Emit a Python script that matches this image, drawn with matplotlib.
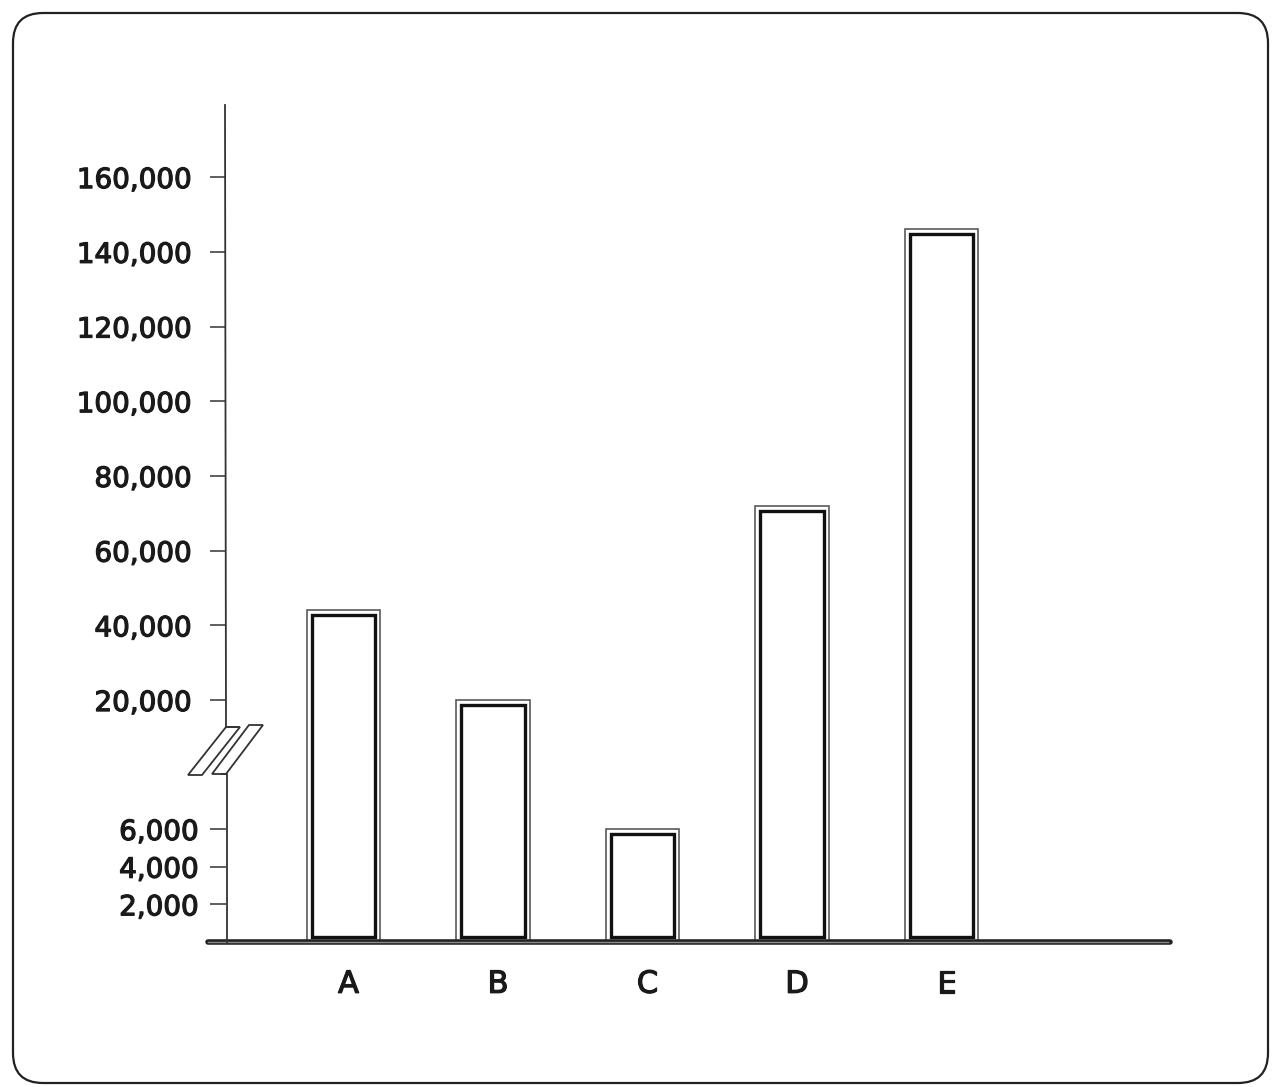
import numpy as np
import matplotlib
matplotlib.use("Agg")
import matplotlib.pyplot as plt
import matplotlib.patheffects as pe
from matplotlib.transforms import Affine2D, IdentityTransform, ScaledTranslation
from matplotlib.patches import Rectangle, Polygon, FancyBboxPatch
from matplotlib.lines import Line2D

# ---------------- data ----------------
categories = ["A", "B", "C", "D", "E"]
values = [44000, 20000, 6000, 72000, 146000]
upper_ticks = [20000, 40000, 60000, 80000, 100000, 120000, 140000, 160000]
lower_ticks = [2000, 4000, 6000]

# broken-axis scale: value -> relative height (piecewise linear)
scale_vals = [-100000, 0, 6000, 20000, 160000, 1000000]
scale_pos = [-1883, 0, 113, 242, 765, 3903]

W, H = 1272, 1087
fig = plt.figure(figsize=(W / 100, H / 100), dpi=100)
fig.patch.set_facecolor("white")

ax_left, ax_right, ax_bottom, ax_top = 226, 1168, 942, 105
ax = fig.add_axes([ax_left / W, (H - ax_bottom) / H,
                   (ax_right - ax_left) / W, (ax_bottom - ax_top) / H])
ax.set_facecolor("none")


def fwd(v):
    return np.interp(v, scale_vals, scale_pos)


def inv(p):
    return np.interp(p, scale_pos, scale_vals)


ax.set_yscale("function", functions=(fwd, inv))
ax.set_ylim(0, 179300)
ax.set_xlim(-0.786, 5.515)

for s in ax.spines.values():
    s.set_visible(False)

# outer thin outline of bars
bars = ax.bar(categories, values, width=0.49, facecolor="white",
              edgecolor="#5a5a5a", linewidth=1.2, zorder=2)

# inner heavy outline (inset by a few pixels)
inset = 5.0
for p in bars.patches:
    x0, y0 = p.get_x(), p.get_y()
    x1, y1 = x0 + p.get_width(), y0 + p.get_height()
    (dx0, dy0), (dx1, dy1) = ax.transData.transform([(x0, y0), (x1, y1)])
    (ix0, iy0), (ix1, iy1) = ax.transData.inverted().transform(
        [(dx0 + inset, dy0 + inset), (dx1 - inset, dy1 - inset)])
    ax.add_patch(Rectangle((ix0, iy0), ix1 - ix0, iy1 - iy0, facecolor="none",
                           edgecolor="#111111", linewidth=2.4, zorder=3))

thick = [pe.withStroke(linewidth=0.9, foreground="#1a1a1a")]

# y ticks
yt = lower_ticks + upper_ticks
ax.set_yticks(yt)
ax.set_yticklabels([f"{v:,}" for v in yt])
ax.tick_params(axis="y", direction="out", length=11.5, width=1.1,
               color="#333333", labelsize=20, labelcolor="#1a1a1a", pad=13)
for t, v in zip(ax.yaxis.get_major_ticks(), yt):
    if v in lower_ticks:
        t.set_pad(8)
for lbl in ax.get_yticklabels():
    lbl.set_path_effects(thick)

# x ticks
ax.set_xticks(range(len(categories)))
ax.set_xticklabels(categories)
ax.tick_params(axis="x", length=0, labelsize=22, labelcolor="#1a1a1a", pad=20)
for lbl in ax.get_xticklabels():
    lbl.set_transform(lbl.get_transform() +
                      ScaledTranslation(5 / 100, 0, fig.dpi_scale_trans))
    lbl.set_path_effects(thick)

# x axis line (heavy)
ax.plot([-18 / (ax_right - ax_left), 1.002], [0, 0], transform=ax.transAxes,
        clip_on=False, color="#222222", lw=4.0, solid_capstyle="round", zorder=4)
ax.plot([-18 / (ax_right - ax_left), 1.0], [0, 0], transform=ax.transAxes,
        clip_on=False, color="#8c8c8c", lw=1.0, zorder=5)

# pixel transform (x right, y down from top)
pix = Affine2D().scale(1, -1).translate(0, H)

axis_col = "#333333"
# upper y-axis
fig.add_artist(Line2D([225, 226, 238], [105, 727, 727], transform=pix,
                      color=axis_col, lw=1.3))
# lower y-axis
fig.add_artist(Line2D([222, 227, 227], [774, 774, 943], transform=pix,
                      color=axis_col, lw=1.3))
# break marks
fig.add_artist(Polygon([(188, 775), (202, 775), (240, 727), (226, 727)],
                       closed=True, transform=pix, facecolor="white",
                       edgecolor=axis_col, lw=1.3))
fig.add_artist(Polygon([(212, 774), (226, 774), (263, 725), (249, 725)],
                       closed=True, transform=pix, facecolor="white",
                       edgecolor=axis_col, lw=1.3))

# rounded border of the picture
fig.add_artist(FancyBboxPatch((13, 4), 1255, 1070,
                              boxstyle="round,pad=0,rounding_size=30",
                              transform=IdentityTransform(), facecolor="none",
                              edgecolor="#222222", lw=1.6))

fig.savefig("out.png", dpi=100, facecolor="white")
